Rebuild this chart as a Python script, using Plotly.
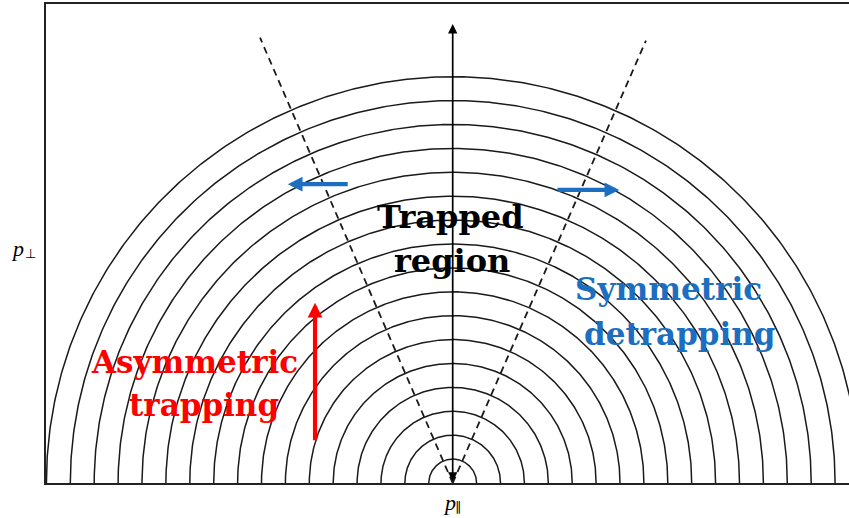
import numpy as np
import plotly.graph_objects as go

# Momentum shells (semicircle radii), in units of the innermost shell
ring_radii = list(range(1, 18))

# Loss-cone boundaries: angle from the p_perp axis (deg) and drawn length
cone_angle_deg = [-23.4, 23.6]   # left, right
cone_length = [20.3, 20.2]

# p_perp axis arrow height
perp_axis_top = 19.2

# Symmetric detrapping drift arrows (tail x -> head x at height y)
detrap_tail_x = [-4.33, 4.32]
detrap_head_x = [-6.90, 6.97]
detrap_y = [12.50, 12.26]

# Asymmetric trapping arrow (vertical)
trap_x = -5.76
trap_y = [1.73, 7.54]

# Region labels: (text, x, y) per line
labels_black = [("Trapped", -0.1, 11.13), ("region", -0.05, 9.29)]
labels_blue = [("Symmetric", 9.01, 8.12), ("detrapping", 9.47, 6.23)]
labels_red = [("Asymmetric", -10.82, 5.06), ("trapping", -10.40, 3.26)]

BLUE = "#1C6FC0"
RED = "#FF0000"
INK = "#1a1a1a"

fig = go.Figure()

theta = np.linspace(0, np.pi, 361)
for r in ring_radii:
    fig.add_trace(go.Scatter(
        x=r * np.cos(theta), y=r * np.sin(theta), mode="lines",
        line=dict(color=INK, width=1.5), hoverinfo="skip", showlegend=False))

for ang, length in zip(cone_angle_deg, cone_length):
    a = np.deg2rad(ang)
    fig.add_trace(go.Scatter(
        x=[0, length * np.sin(a)], y=[0, length * np.cos(a)], mode="lines",
        line=dict(color=INK, width=1.8, dash="7px,5px"),
        hoverinfo="skip", showlegend=False))

annotations = []

# p_perp axis arrow (double-headed)
annotations.append(dict(
    x=0, y=perp_axis_top, ax=0, ay=0, xref="x", yref="y", axref="x", ayref="y",
    text="", showarrow=True, arrowhead=2, startarrowhead=2, arrowside="end+start",
    arrowsize=1.1, startarrowsize=1.1, arrowwidth=1.7, arrowcolor="#000",
    standoff=0, startstandoff=0))

for tx, hx, y in zip(detrap_tail_x, detrap_head_x, detrap_y):
    annotations.append(dict(
        x=hx, y=y, ax=tx, ay=y, xref="x", yref="y", axref="x", ayref="y",
        text="", showarrow=True, arrowhead=2, arrowsize=0.7, arrowwidth=4.2,
        arrowcolor=BLUE, standoff=0))

annotations.append(dict(
    x=trap_x, y=trap_y[1], ax=trap_x, ay=trap_y[0],
    xref="x", yref="y", axref="x", ayref="y",
    text="", showarrow=True, arrowhead=2, arrowsize=0.7, arrowwidth=4.2,
    arrowcolor=RED, standoff=0))

for group, color, size in ((labels_black, "#000", 32), (labels_blue, BLUE, 31),
                           (labels_red, RED, 31)):
    for txt, x, y in group:
        annotations.append(dict(
            x=x, y=y, xref="x", yref="y", text=f"<b>{txt}</b>", showarrow=False,
            xanchor="center", yanchor="middle",
            font=dict(family="DejaVu Serif", size=size, color=color)))

# Axis labels: italic p with a small subscript symbol, in paper coordinates
axis_label_parts = [
    ("p", -0.0349, 0.4906, 22, "italic"),
    ("⊥", -0.0187, 0.4781, 13, "normal"),
    ("p", 0.5019, -0.0397, 22, "italic"),
    ("∥", 0.5143, -0.0501, 13, "normal"),
]
for txt, x, y, size, style in axis_label_parts:
    annotations.append(dict(
        x=x, y=y, xref="paper", yref="paper", text=txt, showarrow=False,
        xanchor="center", yanchor="middle",
        font=dict(family="Liberation Serif", size=size, color="#000", style=style)))

fig.update_layout(
    width=849, height=518,
    margin=dict(l=46, r=0, t=4, b=35),
    paper_bgcolor="white", plot_bgcolor="white",
    showlegend=False,
    annotations=annotations,
    xaxis=dict(range=[-17.017, 16.582], showgrid=False, zeroline=False,
               showticklabels=False, ticks="", showline=True, mirror=True,
               linecolor="#222", linewidth=2),
    yaxis=dict(range=[0, 20.04], showgrid=False, zeroline=False,
               showticklabels=False, ticks="", showline=True, mirror=False,
               linecolor="#222", linewidth=2),
)

fig.write_html("out.html")
